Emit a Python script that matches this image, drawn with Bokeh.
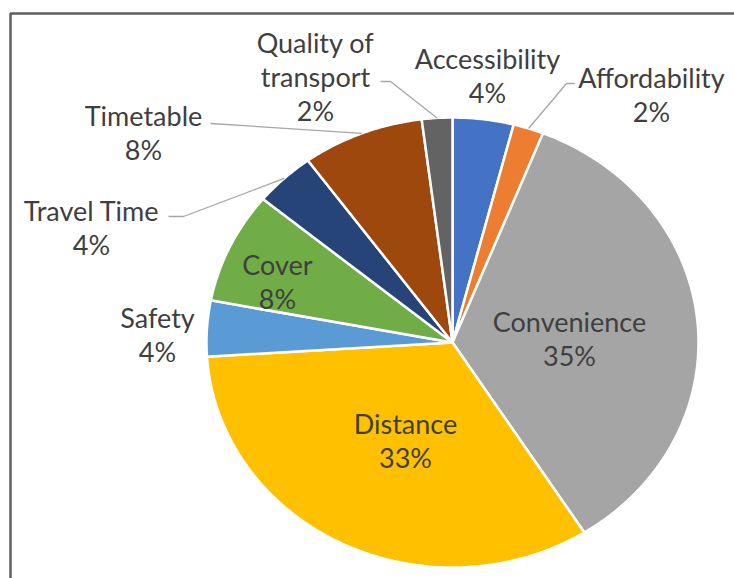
import numpy as np
from bokeh.plotting import figure
from bokeh.models import Range1d, ColumnDataSource
from bokeh.core.properties import value
from bokeh.embed import file_html
from bokeh.resources import INLINE

# ---- data ----
categories = ["Accessibility", "Affordability", "Convenience", "Distance", "Safety",
              "Cover", "Travel Time", "Timetable", "Quality of transport"]
percents = [4, 2, 35, 33, 4, 8, 4, 8, 2]

# ---- styles / layout ----
colors = ["#4472C4", "#ED7D31", "#A5A5A5", "#FFC000", "#5B9BD5",
          "#70AD47", "#264478", "#9E480E", "#636363"]
label_lines = {"Quality of transport": ["Quality of", "transport"]}
label_pos = {  # centre x, y of first line (screen px)
    "Accessibility": (487, 58),
    "Affordability": (651, 77),
    "Convenience": (569, 321),
    "Distance": (405, 423),
    "Safety": (157, 317),
    "Cover": (277, 264),
    "Travel Time": (91, 210),
    "Timetable": (143, 115),
    "Quality of transport": (315, 42),
}
leader_start = {  # label-side start of leader lines
    "Affordability": [(574, 83), (566, 83)],
    "Travel Time": [(168, 216), (183, 216)],
    "Timetable": [(210, 123)],
    "Quality of transport": [(380, 81), (390, 81)],
}
LINE_GAP = 34
cx, cy, rx, ry = 452, 342, 246, 225

W, H = 734, 578
p = figure(width=W, height=H, output_backend="svg", toolbar_location=None,
           x_range=Range1d(0, W), y_range=Range1d(H, 0),
           x_axis_type=None, y_axis_type=None, min_border=0)
p.grid.visible = False
p.outline_line_color = None
p.background_fill_color = "white"
p.border_fill_color = "white"

# frame
p.line([10, 10, W + 5], [H + 5, 13, 13], line_color="#5f5f5f", line_width=2.5)

def pt(frac, r=1.0):
    th = 2 * np.pi * frac
    return cx + r * rx * np.sin(th), cy - r * ry * np.cos(th)

vals = np.array(percents, dtype=float)
fr = vals / vals.sum()
starts = np.concatenate([[0], np.cumsum(fr)[:-1]])
ends = np.cumsum(fr)

xs, ys = [], []
for s, e in zip(starts, ends):
    t = np.linspace(s, e, max(8, int((e - s) * 400)))
    ax, ay = pt(t)
    xs.append([cx] + list(ax) + [cx])
    ys.append([cy] + list(ay) + [cy])
p.patches(xs, ys, fill_color=colors, line_color="white", line_width=2.5)

# leader lines
for cat, pts in leader_start.items():
    i = categories.index(cat)
    mx, my = pt((starts[i] + ends[i]) / 2)
    lx = [q[0] for q in pts] + [mx]
    ly = [q[1] for q in pts] + [my]
    p.line(lx, ly, line_color="#A6A6A6", line_width=1.3)

# labels
tx, ty, tt = [], [], []
for cat, v in zip(categories, percents):
    x0, y0 = label_pos[cat]
    lines = label_lines.get(cat, [cat]) + [f"{v}%"]
    for k, ln in enumerate(lines):
        tx.append(x0)
        ty.append(y0 + k * LINE_GAP)
        tt.append(ln)
src = ColumnDataSource(dict(x=tx, y=ty, t=tt))
p.text("x", "y", text="t", source=src, text_font=value("Lato"), text_font_size="27px",
       text_color="#3f3f3f", text_align="center", text_baseline="middle")

open("out.html", "w").write(file_html(p, INLINE))
